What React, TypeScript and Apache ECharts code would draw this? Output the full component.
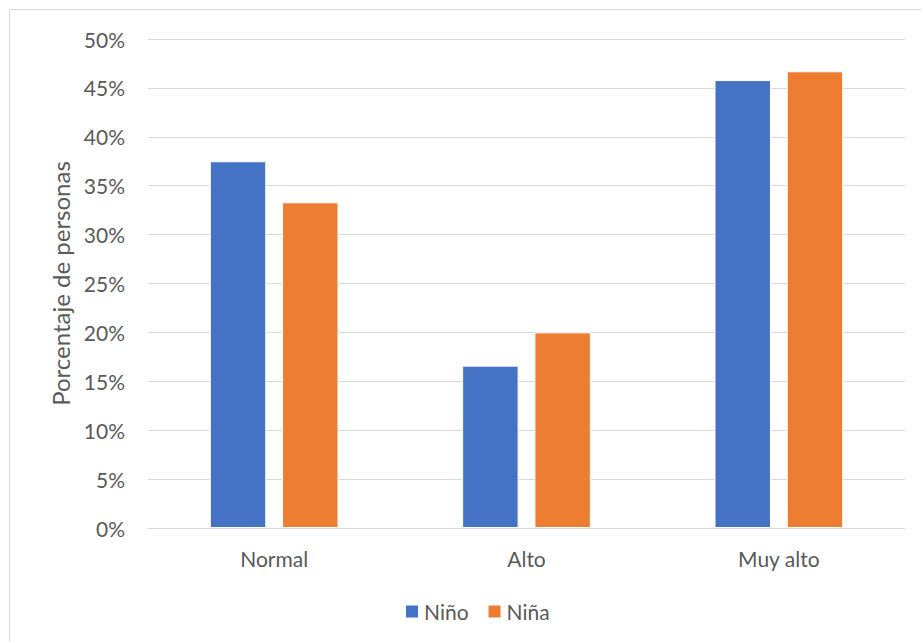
import React, { useEffect, useRef } from "react";
import * as echarts from "echarts";

const categories = ["Normal", "Alto", "Muy alto"];
const ninoValues = [37.5, 16.6, 45.8];
const ninaValues = [33.3, 20.0, 46.7];
const seriesNames = ["Niño", "Niña"];

export default function App() {
  const ref = useRef<HTMLDivElement>(null);
  useEffect(() => {
    if (!ref.current) return;
    const chart = echarts.init(ref.current, null, { renderer: "svg" });
    const font = "Lato, 'Open Sans', sans-serif";
    chart.setOption({
      animation: false,
      textStyle: { fontFamily: font },
      graphic: [
        {
          type: "rect",
          shape: { x: 9.5, y: 9.5, width: 1000, height: 1000 },
          style: { fill: "none", stroke: "#d9d9d9", lineWidth: 1 },
          silent: true,
        },
      ],
      grid: { left: 148, right: 16, top: 39, bottom: 114 },
      legend: {
        bottom: 15,
        left: 399,
        itemWidth: 14,
        itemHeight: 14,
        itemGap: 18,
        icon: "rect",
        textStyle: { color: "#595959", fontSize: 21, fontFamily: font },
        data: seriesNames,
      },
      xAxis: {
        type: "category",
        data: categories,
        axisLine: { lineStyle: { color: "#d9d9d9", width: 1 } },
        axisTick: { show: false },
        axisLabel: { color: "#595959", fontSize: 21, margin: 20, fontFamily: font },
      },
      yAxis: {
        type: "value",
        min: 0,
        max: 50,
        interval: 5,
        name: "Porcentaje de personas",
        nameLocation: "middle",
        nameGap: 74,
        nameTextStyle: { color: "#595959", fontSize: 24, fontFamily: font },
        axisLabel: { color: "#595959", fontSize: 21, margin: 23, formatter: "{value}%", fontFamily: font },
        splitLine: { lineStyle: { color: "#d9d9d9", width: 1 } },
        axisLine: { show: false },
        axisTick: { show: false },
      },
      series: [
        {
          name: seriesNames[0],
          type: "bar",
          data: ninoValues,
          barGap: "28%",
          barCategoryGap: "49%",
          itemStyle: { color: "#4472c4", borderColor: "#ffffff", borderWidth: 1 },
        },
        {
          name: seriesNames[1],
          type: "bar",
          data: ninaValues,
          itemStyle: { color: "#ed7d31", borderColor: "#ffffff", borderWidth: 1 },
        },
      ],
    });
    return () => chart.dispose();
  }, []);
  return (
    <div
      ref={ref}
      style={{ position: "absolute", left: 0, top: 0, width: 921, height: 642, background: "#fff" }}
    />
  );
}
